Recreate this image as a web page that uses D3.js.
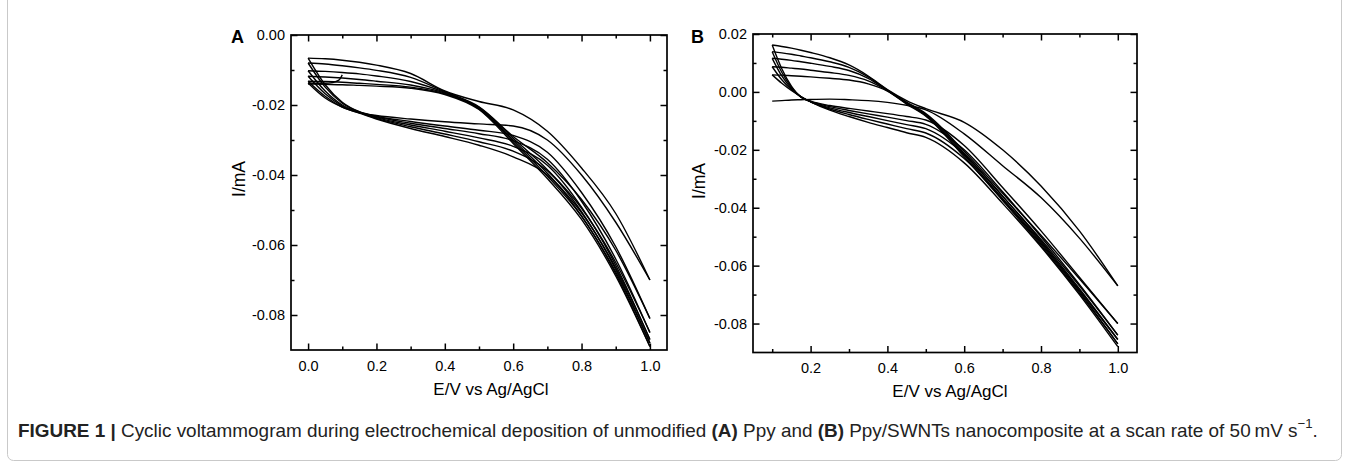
<!DOCTYPE html>
<html><head><meta charset="utf-8">
<script src="https://cdn.jsdelivr.net/npm/d3@7"></script>
<style>
html,body{margin:0;padding:0;background:#fff;}
svg{display:block;}
text{font-family:"Liberation Sans",Arial,sans-serif;}
</style></head><body>
<svg id="chart" width="1349" height="469"></svg>
<script>
// ---------------- DATA ----------------
// Panel A: potential grid (V) shared by all branches
const potentialsA = [0, 0.05, 0.1, 0.15, 0.2, 0.3, 0.4, 0.5, 0.6, 0.7, 0.8, 0.9, 1.0];
// forward (positive-going) scans, current in mA
const forwardScansA = [
  [-0.0137, -0.0180, -0.0206, -0.0222, -0.0230, -0.0240, -0.0248, -0.0254, -0.0260, -0.0300, -0.0400, -0.0535, -0.0700],
  [-0.0066, -0.0142, -0.0192, -0.0219, -0.0232, -0.0247, -0.0260, -0.0272, -0.0287, -0.0335, -0.0450, -0.0605, -0.0810],
  [-0.0080, -0.0149, -0.0195, -0.0220, -0.0234, -0.0252, -0.0267, -0.0282, -0.0302, -0.0355, -0.0475, -0.0640, -0.0850],
  [-0.0102, -0.0160, -0.0200, -0.0221, -0.0236, -0.0257, -0.0275, -0.0294, -0.0318, -0.0372, -0.0492, -0.0658, -0.0870],
  [-0.0118, -0.0168, -0.0203, -0.0222, -0.0238, -0.0262, -0.0283, -0.0305, -0.0332, -0.0388, -0.0505, -0.0670, -0.0880],
  [-0.0132, -0.0175, -0.0206, -0.0223, -0.0240, -0.0267, -0.0290, -0.0315, -0.0348, -0.0400, -0.0517, -0.0682, -0.0890]
];
// reverse (negative-going) scans on the same grid
const reverseScansA = [
  [-0.0066, -0.0068, -0.0072, -0.0078, -0.0086, -0.0110, -0.0160, -0.0190, -0.0214, -0.0275, -0.0380, -0.0510, -0.0700],
  [-0.0080, -0.0083, -0.0088, -0.0094, -0.0101, -0.0121, -0.0162, -0.0205, -0.0290, -0.0365, -0.0470, -0.0615, -0.0810],
  [-0.0102, -0.0104, -0.0107, -0.0111, -0.0117, -0.0133, -0.0164, -0.0207, -0.0295, -0.0385, -0.0495, -0.0650, -0.0850],
  [-0.0118, -0.0120, -0.0123, -0.0127, -0.0132, -0.0143, -0.0166, -0.0209, -0.0300, -0.0395, -0.0508, -0.0665, -0.0870],
  [-0.0132, -0.0133, -0.0135, -0.0138, -0.0141, -0.0149, -0.0168, -0.0211, -0.0305, -0.0403, -0.0518, -0.0677, -0.0880],
  [-0.0140, -0.0141, -0.0142, -0.0144, -0.0146, -0.0152, -0.0170, -0.0213, -0.0310, -0.0410, -0.0527, -0.0688, -0.0890]
];
// initial segment of panel A (start at 0.1 V)
const startPotentialsA = [0, 0.03, 0.05, 0.07, 0.09, 0.1];
const startCurrentA   = [-0.0137, -0.0138, -0.0138, -0.0136, -0.0129, -0.0114];

// Panel B
const potentialsB = [0.1, 0.125, 0.15, 0.175, 0.2, 0.25, 0.3, 0.35, 0.4, 0.45, 0.5, 0.6, 0.7, 0.8, 0.9, 1.0];
const forwardScansB = [
  [-0.0032, -0.0030, -0.0028, -0.0027, -0.0026, -0.0025, -0.0027, -0.0030, -0.0036, -0.0046, -0.0062, -0.0145, -0.0255, -0.0365, -0.0505, -0.0670],
  [0.0162, 0.0080, 0.0020, -0.0018, -0.0032, -0.0047, -0.0057, -0.0066, -0.0075, -0.0085, -0.0097, -0.0185, -0.0330, -0.0480, -0.0640, -0.0800],
  [0.0139, 0.0068, 0.0016, -0.0018, -0.0033, -0.0051, -0.0064, -0.0076, -0.0087, -0.0099, -0.0112, -0.0200, -0.0345, -0.0500, -0.0665, -0.0840],
  [0.0116, 0.0055, 0.0012, -0.0017, -0.0034, -0.0055, -0.0071, -0.0085, -0.0099, -0.0113, -0.0127, -0.0215, -0.0360, -0.0515, -0.0680, -0.0855],
  [0.0087, 0.0042, 0.0008, -0.0017, -0.0034, -0.0059, -0.0078, -0.0095, -0.0111, -0.0127, -0.0142, -0.0230, -0.0372, -0.0525, -0.0690, -0.0870],
  [0.0059, 0.0030, 0.0005, -0.0016, -0.0034, -0.0063, -0.0085, -0.0105, -0.0123, -0.0141, -0.0157, -0.0245, -0.0385, -0.0535, -0.0700, -0.0880]
];
const reverseScansB = [
  [0.0162, 0.0157, 0.0151, 0.0144, 0.0136, 0.0118, 0.0093, 0.0055, 0.0008, -0.0030, -0.0058, -0.0105, -0.0200, -0.0325, -0.0480, -0.0670],
  [0.0139, 0.0135, 0.0130, 0.0124, 0.0118, 0.0104, 0.0085, 0.0052, 0.0006, -0.0035, -0.0075, -0.0205, -0.0350, -0.0495, -0.0645, -0.0800],
  [0.0116, 0.0113, 0.0109, 0.0104, 0.0099, 0.0088, 0.0074, 0.0047, 0.0005, -0.0038, -0.0078, -0.0212, -0.0360, -0.0510, -0.0670, -0.0840],
  [0.0087, 0.0085, 0.0082, 0.0079, 0.0075, 0.0067, 0.0057, 0.0038, 0.0004, -0.0040, -0.0081, -0.0218, -0.0368, -0.0520, -0.0685, -0.0855],
  [0.0059, 0.0058, 0.0056, 0.0054, 0.0052, 0.0047, 0.0041, 0.0028, 0.0003, -0.0042, -0.0084, -0.0224, -0.0375, -0.0530, -0.0695, -0.0870]
];

// ticks
const xMajorA = [0, 0.2, 0.4, 0.6, 0.8, 1.0];
const xMinorA = [0.1, 0.3, 0.5, 0.7, 0.9];
const yMajorA = [0, -0.02, -0.04, -0.06, -0.08];
const yMinorA = [-0.01, -0.03, -0.05, -0.07];
const xMajorB = [0.2, 0.4, 0.6, 0.8, 1.0];
const xMinorB = [0.1, 0.3, 0.5, 0.7, 0.9];
const yMajorB = [0.02, 0, -0.02, -0.04, -0.06, -0.08];
const yMinorB = [0.01, -0.01, -0.03, -0.05, -0.07];

const xTitle = "E/V vs Ag/AgCl";
const yTitle = "I/mA";

// ---------------- DRAWING ----------------
const svg = d3.select("#chart");
svg.append("rect").attr("width",1349).attr("height",469).attr("fill","#fff");

function drawPanel(o){
  const x = d3.scaleLinear().domain(o.xDomain).range([o.left, o.right]);
  const y = d3.scaleLinear().domain(o.yDomain).range([o.bottom, o.top]);
  const g = svg.append("g");
  const line = d3.line().x(d=>x(d[0])).y(d=>y(d[1])).curve(d3.curveMonotoneX);
  const branches = [];
  o.forward.forEach(a => branches.push(o.pot.map((e,i)=>[e,a[i]])));
  o.reverse.forEach(a => branches.push(o.pot.map((e,i)=>[e,a[i]])));
  if (o.extraPot) branches.push(o.extraPot.map((e,i)=>[e,o.extraCur[i]]));
  g.selectAll("path.cv").data(branches).join("path")
    .attr("class","cv").attr("d", line)
    .attr("fill","none").attr("stroke","#000").attr("stroke-width",1.4)
    .attr("stroke-linejoin","round");

  const fx = d => d.toFixed(1);
  const fy = d => (Math.abs(d) < 1e-9 ? 0 : d).toFixed(2);
  const axes = [
    [d3.axisBottom(x).tickValues(o.xMajor).tickSize(-6.5).tickPadding(10.5).tickFormat(fx), o.bottom, "x"],
    [d3.axisBottom(x).tickValues(o.xMinor).tickSize(-3.5).tickFormat(""), o.bottom, "x"],
    [d3.axisTop(x).tickValues(o.xMajor).tickSize(-6.5).tickFormat(""), o.top, "x"],
    [d3.axisTop(x).tickValues(o.xMinor).tickSize(-3.5).tickFormat(""), o.top, "x"],
    [d3.axisLeft(y).tickValues(o.yMajor).tickSize(-6.5).tickPadding(6).tickFormat(fy), o.left, "y"],
    [d3.axisLeft(y).tickValues(o.yMinor).tickSize(-3.5).tickFormat(""), o.left, "y"],
    [d3.axisRight(y).tickValues(o.yMajor).tickSize(-6.5).tickFormat(""), o.right, "y"],
    [d3.axisRight(y).tickValues(o.yMinor).tickSize(-3.5).tickFormat(""), o.right, "y"]
  ];
  axes.forEach(([ax, pos, kind]) => {
    const a = g.append("g").attr("transform", kind==="x" ? `translate(0,${pos})` : `translate(${pos},0)`).call(ax);
    a.select(".domain").remove();
    a.selectAll(".tick line").attr("stroke","#000").attr("stroke-width",1.5);
    a.selectAll(".tick text").attr("fill","#000").style("font-size","14.5px")
      .style("font-family",'"Liberation Sans",Arial,sans-serif');
  });
  g.append("rect").attr("x",o.left).attr("y",o.top)
    .attr("width",o.right-o.left).attr("height",o.bottom-o.top)
    .attr("fill","none").attr("stroke","#000").attr("stroke-width",1.7);

  g.append("text").attr("x",o.letterX).attr("y",o.letterY).text(o.letter)
    .style("font-size","18px").style("font-weight","bold").attr("fill","#000");
  g.append("text").attr("x",o.xTitleX).attr("y",o.xTitleY).attr("text-anchor","middle")
    .style("font-size","17px").attr("fill","#000").text(xTitle);
  g.append("text").attr("transform",`translate(${o.yTitleX},${o.yTitleY}) rotate(-90)`)
    .attr("text-anchor","middle").style("font-size","17.5px").attr("fill","#000").text(yTitle);
}

drawPanel({
  xDomain:[-0.05,1.05], yDomain:[-0.09,0], left:291, right:667, top:35, bottom:350,
  pot:potentialsA, forward:forwardScansA, reverse:reverseScansA,
  extraPot:startPotentialsA, extraCur:startCurrentA,
  xMajor:xMajorA, xMinor:xMinorA, yMajor:yMajorA, yMinor:yMinorA,
  letter:"A", letterX:231, letterY:43, xTitleX:491, xTitleY:395, yTitleX:245, yTitleY:179
});
drawPanel({
  xDomain:[0.05,1.05], yDomain:[-0.09,0.02], left:753, right:1137, top:34, bottom:352.5,
  pot:potentialsB, forward:forwardScansB, reverse:reverseScansB,
  xMajor:xMajorB, xMinor:xMinorB, yMajor:yMajorB, yMinor:yMinorB,
  letter:"B", letterX:691, letterY:43, xTitleX:950, xTitleY:396.5, yTitleX:705, yTitleY:181
});

// caption frame
svg.append("rect").attr("x",7.5).attr("y",-20).attr("width",1334).attr("height",480.5)
  .attr("rx",6).attr("fill","none").attr("stroke","#c9c9c9").attr("stroke-width",1);

// caption
const cap = svg.append("text").attr("x",18).attr("y",437).attr("fill","#222").style("font-size","16px");
const parts = [
  ["FIGURE 1 | ", true], ["Cyclic voltammogram during electrochemical deposition of unmodified ", false],
  ["(A)", true], [" Ppy and ", false], ["(B)", true],
  [" Ppy/SWNTs nanocomposite at a scan rate of 50\u2009mV s", false]
];
parts.forEach(([t,b]) => cap.append("tspan").style("font-weight", b ? "bold":"normal").text(t));
cap.append("tspan").attr("dy",-7).style("font-size","11px").text("\u22121");
cap.append("tspan").attr("dy",7).text(".");
const w = cap.node().getComputedTextLength();
const fs = 16 * 1300 / w;
cap.style("font-size", fs + "px");
cap.selectAll("tspan").filter((d,i,n)=>i===parts.length).style("font-size",(fs*0.7)+"px").attr("dy",-fs*0.45);
cap.selectAll("tspan").filter((d,i,n)=>i===parts.length+1).attr("dy",fs*0.45);
</script>
</body></html>
